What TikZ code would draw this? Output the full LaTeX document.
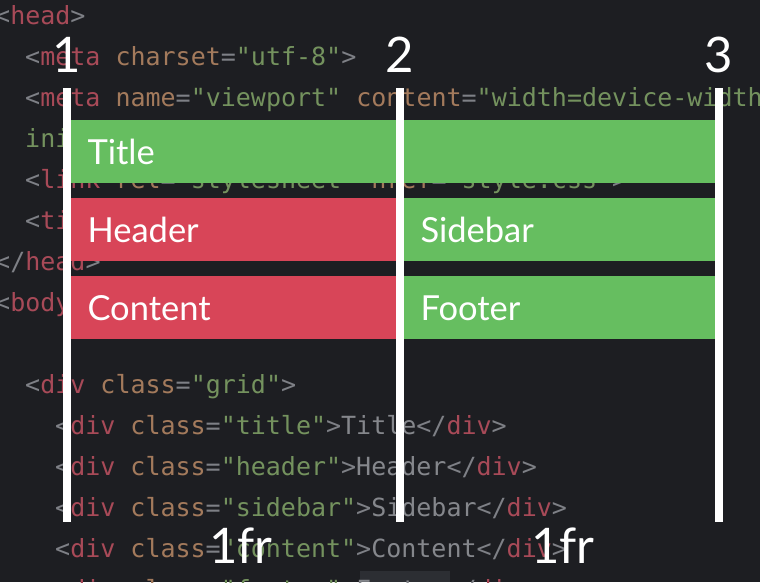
\documentclass[tikz,border=0pt]{standalone}
\usepackage{fontspec}
\setmainfont{Lato}
\setmonofont{DejaVu Sans Mono}
\usetikzlibrary{positioning}
\definecolor{editorbg}{HTML}{1D1E22}
\definecolor{editorsel}{HTML}{2C2E33}
\definecolor{cdpunct}{HTML}{7E8086}
\definecolor{cdtag}{HTML}{A84A58}
\definecolor{cdattr}{HTML}{A37A5C}
\definecolor{cdstr}{HTML}{74925E}
\definecolor{cdtext}{HTML}{85878C}
\definecolor{itemgreen}{HTML}{66BE60}
\definecolor{itemred}{HTML}{D84558}
\newcommand{\cdp}[1]{\textcolor{cdpunct}{#1}}
\newcommand{\cdt}[1]{\textcolor{cdtag}{#1}}
\newcommand{\cda}[1]{\textcolor{cdattr}{#1}}
\newcommand{\cds}[1]{\textcolor{cdstr}{#1}}
\newcommand{\cdx}[1]{\textcolor{cdtext}{#1}}

\begin{document}
\begin{tikzpicture}[x=1pt,y=-1pt,
    code/.style={anchor=base west,inner sep=0pt,font=\ttfamily\fontsize{25}{30}\selectfont},
    bar/.style={anchor=north west,minimum height=63pt,inner xsep=16.5pt,inner ysep=0pt,outer sep=0pt,
      text height=25pt,text depth=0pt,align=left,text=white,font=\fontsize{34.5}{41}\selectfont},
    gridline/.style={white,line width=8pt},
    big/.style={anchor=base,inner sep=0pt,text=white,font=\fontsize{49}{58}\selectfont}]
    \useasboundingbox (0,0) rectangle (760,582);
    \clip (0,0) rectangle (760,582);
    \fill[editorbg] (0,0) rectangle (760,582);
    \fill[editorsel] (360,571) rectangle (450,582);
    % code behind the grid
    \node[code] (head) at (-5,24) {\cdp{<}\cdt{head}\cdp{>}};
    \node[code] (charset) at (25,65) {\cdp{<}\cdt{meta} \cda{charset}\cdp{=}\cds{"utf-8"}\cdp{>}};
    \node[code] (viewport) at (25,106) {\cdp{<}\cdt{meta} \cda{name}\cdp{=}\cds{"viewport"} \cda{content}\cdp{=}\cds{"width=device-width,}};
    \node[code] (scale) at (25,147) {\cds{initial-scale=1.0"}\cdp{>}};
    \node[code] (link) at (25,188) {\cdp{<}\cdt{link} \cda{rel}\cdp{=}\cds{"stylesheet"} \cda{href}\cdp{=}\cds{"style.css"}\cdp{>}};
    \node[code] (ti) at (25,229) {\cdp{<}\cdt{title}\cdp{>}};
    \node[code] (headend) at (-5,270) {\cdp{</}\cdt{head}\cdp{>}};
    \node[code] (body) at (-5,311) {\cdp{<}\cdt{body}\cdp{>}};
    \node[code] (grid) at (25,393) {\cdp{<}\cdt{div} \cda{class}\cdp{=}\cds{"grid"}\cdp{>}};
    \node[code] (divtitle) at (55,434) {\cdp{<}\cdt{div} \cda{class}\cdp{=}\cds{"title"}\cdp{>}\cdx{Title}\cdp{</}\cdt{div}\cdp{>}};
    \node[code] (divheader) at (55,475) {\cdp{<}\cdt{div} \cda{class}\cdp{=}\cds{"header"}\cdp{>}\cdx{Header}\cdp{</}\cdt{div}\cdp{>}};
    \node[code] (divsidebar) at (55,516) {\cdp{<}\cdt{div} \cda{class}\cdp{=}\cds{"sidebar"}\cdp{>}\cdx{Sidebar}\cdp{</}\cdt{div}\cdp{>}};
    \node[code] (divcontent) at (55,557) {\cdp{<}\cdt{div} \cda{class}\cdp{=}\cds{"content"}\cdp{>}\cdx{Content}\cdp{</}\cdt{div}\cdp{>}};
    \node[code] (divfooter) at (55,598) {\cdp{<}\cdt{div} \cda{class}\cdp{=}\cds{"footer"}\cdp{>}\cdx{Footer}\cdp{</}\cdt{div}\cdp{>}};
    % grid items
    \node[bar,fill=itemgreen,text width=611pt] (title) at (71,120) {Title};
    \node[bar,fill=itemred,text width=292pt,below=15pt of title.south west,anchor=north west] (header) {Header};
    \node[bar,fill=itemgreen,text width=278pt,right=8pt of header.north east,anchor=north west] (sidebar) {Sidebar};
    \node[bar,fill=itemred,text width=292pt,below=15pt of header.south west,anchor=north west] (content) {Content};
    \node[bar,fill=itemgreen,text width=278pt,below=15pt of sidebar.south west,anchor=north west] (footer) {Footer};
    % grid lines
    \foreach \x/\n in {67/1,400/2,719/3}{
        \coordinate (top\n) at (\x,88);
        \coordinate (bot\n) at (\x,522);
        \draw[gridline] (top\n) -- (bot\n);
        \node[big] (line\n) at (\x,72) {\n};
    }
    % track sizes
    \node[big] (fr1) at (241,563) {1fr};
    \node[big] (fr2) at (563,563) {1fr};
\end{tikzpicture}
\end{document}
